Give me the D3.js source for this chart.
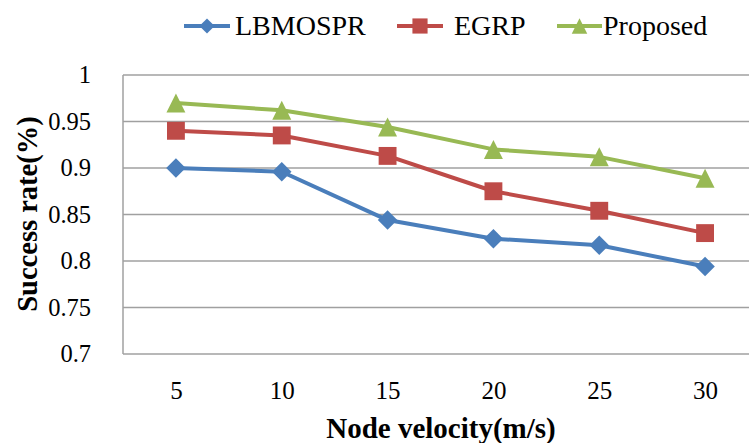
<!DOCTYPE html>
<html>
<head>
<meta charset="utf-8">
<script src="https://cdn.jsdelivr.net/npm/d3@7"></script>
<style>
  html, body { margin: 0; padding: 0; background: #fff; }
  svg text { font-family: "Liberation Serif", "Times New Roman", Times, "DejaVu Serif", serif !important; }
</style>
</head>
<body>
<svg id="chart" width="749" height="443"></svg>
<script>
// Node velocity (m/s) on the x axis
const velocities = ["5", "10", "15", "20", "25", "30"];

// Success rate per routing scheme
const lbmosprValues  = [0.900, 0.896, 0.844, 0.824, 0.817, 0.794];
const egrpValues     = [0.940, 0.935, 0.913, 0.875, 0.854, 0.830];
const proposedValues = [0.970, 0.962, 0.944, 0.920, 0.912, 0.889];

const yTicks = [0.7, 0.75, 0.8, 0.85, 0.9, 0.95, 1];
const yTickLabels = ["0.7", "0.75", "0.8", "0.85", "0.9", "0.95", "1"];

const seriesNames = ["LBMOSPR", "EGRP", "Proposed"];

// marker shapes centred on their bounding box
const diamond = {
  draw(ctx, size) {
    const r = Math.sqrt(size) / 2 * Math.SQRT2;
    ctx.moveTo(0, -r); ctx.lineTo(r, 0); ctx.lineTo(0, r); ctx.lineTo(-r, 0); ctx.closePath();
  }
};
const square = {
  draw(ctx, size) {
    const h = Math.sqrt(size) / 2;
    ctx.rect(-h, -h, 2 * h, 2 * h);
  }
};
const triangle = {
  draw(ctx, size) {
    const h = Math.sqrt(size) / 2;
    ctx.moveTo(0, -h); ctx.lineTo(h, h); ctx.lineTo(-h, h); ctx.closePath();
  }
};

const series = [
  { name: seriesNames[0], values: lbmosprValues,  color: "#4a7ebb", marker: diamond,  size: 190, legendSize: 115 },
  { name: seriesNames[1], values: egrpValues,     color: "#be4b48", marker: square,   size: 320, legendSize: 230 },
  { name: seriesNames[2], values: proposedValues, color: "#98b954", marker: triangle, size: 360, legendSize: 240 }
];

const svg = d3.select("#chart");
const plot = { left: 123, right: 758, top: 75, bottom: 354 };

const x = d3.scalePoint().domain(velocities).range([plot.left, plot.right]).padding(0.5);
const y = d3.scaleLinear().domain([0.7, 1]).range([plot.bottom, plot.top]);

// horizontal grid lines
svg.append("g")
  .selectAll("line")
  .data(yTicks)
  .join("line")
  .attr("x1", plot.left).attr("x2", plot.right)
  .attr("y1", d => y(d)).attr("y2", d => y(d))
  .attr("stroke", "#a0a0a0").attr("stroke-width", 1.5);

// left axis line
svg.append("line")
  .attr("x1", plot.left).attr("x2", plot.left)
  .attr("y1", plot.top).attr("y2", plot.bottom)
  .attr("stroke", "#a0a0a0").attr("stroke-width", 1.5);

// y tick labels
const yAxis = d3.axisLeft(y).tickValues(yTicks)
  .tickFormat((d, i) => yTickLabels[i]).tickSize(0).tickPadding(32);
const gy = svg.append("g").attr("transform", `translate(${plot.left},0)`).call(yAxis);
gy.select(".domain").remove();
gy.attr("font-family", null).attr("font-size", null);
gy.selectAll("text").style("font-size", "24.5px").attr("fill", "#000");

// x tick labels
const xAxis = d3.axisBottom(x).tickSize(0).tickPadding(27);
const gx = svg.append("g").attr("transform", `translate(0,${plot.bottom})`).call(xAxis);
gx.select(".domain").remove();
gx.attr("font-family", null).attr("font-size", null);
gx.selectAll("text").style("font-size", "25px").attr("fill", "#000");

// axis titles
svg.append("text")
  .attr("x", 441).attr("y", 438)
  .attr("text-anchor", "middle")
  .style("font-size", "29px").style("font-weight", "bold")
  .text("Node velocity(m/s)");

svg.append("text")
  .attr("transform", "translate(37,214) rotate(-90)")
  .attr("text-anchor", "middle")
  .style("font-size", "28.5px").style("font-weight", "bold")
  .text("Success rate(%)");

// series lines and markers
const line = d3.line().x((d, i) => x(velocities[i])).y(d => y(d));

series.forEach(s => {
  svg.append("path")
    .datum(s.values)
    .attr("d", line)
    .attr("fill", "none")
    .attr("stroke", s.color)
    .attr("stroke-width", 4)
    .attr("stroke-linejoin", "round");

  svg.append("g")
    .selectAll("path")
    .data(s.values)
    .join("path")
    .attr("transform", (d, i) => `translate(${x(velocities[i])},${y(d)})`)
    .attr("d", d3.symbol().type(s.marker).size(s.size))
    .attr("fill", s.color);
});

// legend
const legendItems = [
  { x1: 184, x2: 230, tx: 235 },
  { x1: 397, x2: 443, tx: 454 },
  { x1: 557, x2: 602, tx: 603 }
];
const legendY = 26;
series.forEach((s, i) => {
  const L = legendItems[i];
  const g = svg.append("g");
  g.append("line")
    .attr("x1", L.x1).attr("x2", L.x2)
    .attr("y1", legendY).attr("y2", legendY)
    .attr("stroke", s.color).attr("stroke-width", 4);
  g.append("path")
    .attr("transform", `translate(${(L.x1 + L.x2) / 2},${legendY})`)
    .attr("d", d3.symbol().type(s.marker).size(s.legendSize))
    .attr("fill", s.color);
  g.append("text")
    .attr("x", L.tx).attr("y", legendY + 9)
    .style("font-size", "28px")
    .text(s.name);
});
</script>
</body>
</html>
